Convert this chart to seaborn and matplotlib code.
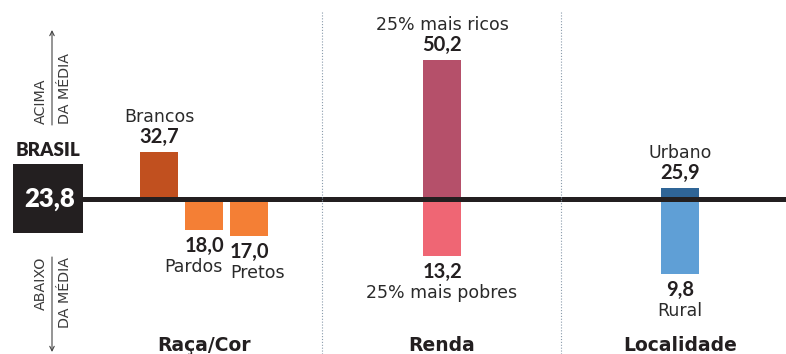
import matplotlib
matplotlib.use("Agg")
import matplotlib.pyplot as plt
import seaborn as sns
import pandas as pd

# ---- data -------------------------------------------------------------
brasil = 23.8
categories = ["Brancos", "Pardos", "Pretos",
              "25% mais ricos", "25% mais pobres",
              "Urbano", "Rural"]
values = [32.7, 18.0, 17.0, 50.2, 13.2, 25.9, 9.8]
groups = ["Raça/Cor", "Raça/Cor", "Raça/Cor",
          "Renda", "Renda",
          "Localidade", "Localidade"]
group_names = ["Raça/Cor", "Renda", "Localidade"]

# ---- layout & style ---------------------------------------------------
W, H = 786, 354
slot = {"Brancos": 0, "Pardos": 1, "Pretos": 2,
        "25% mais ricos": 6.29, "25% mais pobres": 6.29,
        "Urbano": 11.58, "Rural": 11.58}
colors = {"Brancos": "#c1501f", "Pardos": "#f47f35", "Pretos": "#f47f35",
          "25% mais ricos": "#b5506a", "25% mais pobres": "#ef6674",
          "Urbano": "#2f6597", "Rural": "#5f9fd6"}
X0_PX, SLOT_PX = 159, 45          # pixel centre of slot 0, pixels per slot
BASE_PX, UNIT_PX = 199.5, 5.3     # pixel row of the national mean, pixels per unit
INK = "#231f20"
NUM_FONT = ["Lato", "DejaVu Sans"]
TXT_FONT = ["DejaVu Sans"]

sns.set_theme(style="white")
plt.rcParams["font.family"] = TXT_FONT

df = pd.DataFrame({"categoria": categories, "valor": values, "grupo": groups})
df["desvio"] = df["valor"] - brasil
df["pos"] = df["categoria"].map(slot)

fig = plt.figure(figsize=(W / 100, H / 100), dpi=100, facecolor="white")
ax = fig.add_axes([0, 0, 1, 1])

sns.barplot(data=df, x="pos", y="desvio", hue="categoria", palette=colors,
            native_scale=True, dodge=False, width=0.845, saturation=1,
            errorbar=None, legend=False, linewidth=0, ax=ax)

ax.set_xlim(-X0_PX / SLOT_PX, (W - X0_PX) / SLOT_PX)
ax.set_ylim(-(H - BASE_PX) / UNIT_PX, BASE_PX / UNIT_PX)
ax.axis("off")


def pt(px):
    return px * 72 / 100


def fx(px):
    return px / W


def fy(py):
    return 1 - py / H


# national mean line
ax.axhline(0, xmin=83 / W, xmax=1, color=INK, lw=3.6, zorder=5)

# dotted separators between groups
for xs in (322, 561):
    fig.add_artist(plt.Line2D([fx(xs), fx(xs)], [fy(12), fy(H)],
                              transform=fig.transFigure, color="#8a9bab",
                              lw=0.8, ls=(0, (1, 1.6))))

# value and name labels around each bar
num_style = dict(fontsize=14.5, fontweight="bold", color=INK, family=NUM_FONT,
                 ha="center", va="baseline", textcoords="offset points")
name_style = dict(fontsize=12.5, color="#2a2a2a", va="baseline",
                  textcoords="offset points")
label_side = {"Pardos": ("right", 19), "Pretos": ("left", -19)}
for _, r in df.iterrows():
    x, d = r["pos"], r["desvio"]
    num = f"{r['valor']:.1f}".replace(".", ",")
    if d >= 0:
        ax.annotate(num, (x, d), xytext=(0, pt(9)), **num_style)
        ax.annotate(r["categoria"], (x, d), xytext=(0, pt(30)), ha="center",
                    **name_style)
    else:
        ax.annotate(num, (x, d), xytext=(0, -pt(22)), **num_style)
        ha, dx = label_side.get(r["categoria"], ("center", 0))
        ax.annotate(r["categoria"], (x, d), xytext=(pt(dx), -pt(42)), ha=ha,
                    **name_style)

# group titles
for g in group_names:
    gx = df.loc[df["grupo"] == g, "pos"].mean()
    ax.text(gx, -(351 - BASE_PX) / UNIT_PX, g, ha="center", va="baseline",
            fontsize=13.5, fontweight="bold", color=INK)

# national reference box
fig.add_artist(plt.Rectangle((fx(12.7), fy(233)), fx(83.3) - fx(12.7),
                             fy(164) - fy(233), transform=fig.transFigure,
                             color=INK, lw=0))
fig.text(fx(48), fy(156), "BRASIL", ha="center", va="baseline",
         fontsize=13.5, fontweight="heavy", color=INK, family=NUM_FONT)
fig.text(fx(50), fy(207), f"{brasil:.1f}".replace(".", ","), ha="center",
         va="baseline", fontsize=18.5, fontweight="heavy", color="white",
         family=NUM_FONT)

# above / below arrows
arrow = dict(arrowstyle="->", lw=0.8, color="#444444",
             shrinkA=0, shrinkB=0, mutation_scale=8)
fig.add_artist(matplotlib.patches.FancyArrowPatch(
    (fx(52), fy(125)), (fx(52), fy(30)), transform=fig.transFigure, **arrow))
fig.add_artist(matplotlib.patches.FancyArrowPatch(
    (fx(52), fy(257)), (fx(52), fy(352)), transform=fig.transFigure, **arrow))
side = dict(rotation=90, fontsize=10.3, color="#3a3a3a", ha="center")
fig.text(fx(41), fy(124), "ACIMA", va="bottom", **side)
fig.text(fx(65), fy(124), "DA MÉDIA", va="bottom", **side)
fig.text(fx(41), fy(257), "ABAIXO", va="top", **side)
fig.text(fx(65), fy(257), "DA MÉDIA", va="top", **side)

fig.savefig("out.png", dpi=100, facecolor="white")
